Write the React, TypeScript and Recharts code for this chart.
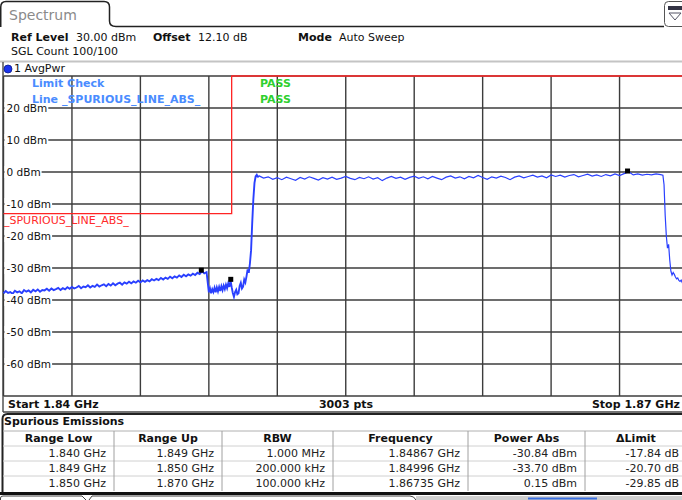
import React from "react";
import { CartesianGrid, ComposedChart, Line, ReferenceDot, XAxis, YAxis } from "recharts";

// sweep settings (MHz / dBm)
const startMHz = 1840;
const stopMHz = 1870;
const sweepPts = 3003;
const freqTicks = [1840, 1843, 1846, 1849, 1852, 1855, 1858, 1861, 1864, 1867, 1870];
const levelTicks = [30, 20, 10, 0, -10, -20, -30, -40, -50, -60, -70];

// spurious emissions table
const tableHeaders = ["Range Low", "Range Up", "RBW", "Frequency", "Power Abs", "\u0394Limit"];
const rangeLowGHz = [1.84, 1.849, 1.85];
const rangeUpGHz = [1.849, 1.85, 1.87];
const rbwText = ["1.000 MHz", "200.000 kHz", "100.000 kHz"];
const peakFreqGHz = [1.84867, 1.84996, 1.86735];
const powerAbsDbm = [-30.84, -33.7, 0.15];
const deltaLimitDb = [-17.84, -20.7, -29.85];

// trace in pieces
const lowBandDbm = [
  -37.9, -37.2, -37.8, -37.5, -38.1, -37.1, -37.6, -37.3, -37.9, -36.9,
  -37.4, -37.0, -37.6, -36.8, -37.3, -36.7, -37.4, -36.9, -37.0, -36.5,
  -37.1, -36.4, -36.9, -36.6, -36.2, -36.9, -36.3, -36.7, -36.0, -36.5,
  -35.9, -36.4, -36.1, -35.6, -36.3, -35.8, -36.0, -35.4, -36.1, -35.6,
  -35.9, -35.2, -35.8, -35.4, -35.1, -35.7, -35.0, -35.5, -34.8, -35.4,
  -34.9, -34.6, -35.2, -34.5, -34.9, -34.3, -34.8, -34.2, -34.6, -34.0,
  -34.5, -33.9, -34.3, -33.8, -34.2, -33.5, -33.9, -33.4, -33.8, -33.1,
  -33.6, -33.0, -33.4, -32.7, -33.2, -32.6, -33.0, -32.3, -32.8, -32.1,
  -32.6, -32.0, -32.4, -31.8, -32.2, -31.5, -31.9, -31.0, -31.7, -31.3,
];
const rbwBandDbm = [
  -37.6, -36.4, -37.9, -36.6, -37.5, -36.2, -37.6, -36.1, -37.3, -35.9,
  -37.2, -35.7, -36.9, -35.5, -36.6, -35.2, -36.3, -34.8, -35.9, -33.9,
];
const edgeDbm = [
  -36.0, -37.8, -39.0, -37.5, -36.8, -38.2, -37.9, -35.6, -34.6, -36.4,
  -35.8, -33.6, -34.5, -32.6, -30.4, -31.5, -28.6, -24.5, -16.0, -8.5,
  -3.4, -1.4, -0.9, -1.7,
];
const channelDbm = [
  -1.2, -1.9, -1.5, -2.3,
  -1.8, -2.4, -1.6, -2.1, -2.6,
  -1.7, -2.2, -1.5, -2.0, -2.5,
  -1.8, -2.2, -1.6, -2.3, -1.9,
  -1.4, -2.0, -2.4, -1.7, -2.1,
  -1.5, -2.2, -1.8, -2.7, -1.9,
  -1.4, -2.0, -1.6, -2.3, -1.7,
  -1.3, -2.0, -1.5, -2.1, -1.4,
  -1.9, -2.4, -1.6, -1.2, -1.9,
  -1.5, -2.1, -1.4, -1.8, -1.1,
  -1.7, -2.3, -1.5, -1.9, -1.3,
  -1.7, -2.4, -1.6, -1.2, -1.8,
  -1.4, -1.0, -1.6, -1.2, -1.8,
  -0.9, -1.4, -1.0, -1.6, -1.1,
  -0.8, -1.5, -1.1, -0.7, -1.3,
  -0.9, -1.4, -0.8, -1.2, -0.6,
  -1.1, -0.5, 0.1, -0.9, -0.6,
  -1.0, -0.7, -0.9, -0.6, -0.8,
];
const fallDbm = [
  -1.0, -4.0, -13.5, -20.0, -23.8, -22.6, -27.5, -31.0, -32.2, -31.4,
  -32.0, -32.8, -33.4, -33.1, -33.9, -34.2, -33.8, -34.6, -34.3, -35.0,
  -34.7, -35.2, -35.0,
];

type Seg = { start: number; step: number; values: number[] };
const toPoints = (segs: Seg[]) =>
  segs.flatMap((s) => s.values.map((dbm, i) => ({ f: s.start + i * s.step, dbm })));

// noisy out-of-band part is drawn heavier, like the dense 3003-pt trace on screen
const traceOutOfBand = toPoints([
  { start: 1840, step: 0.1, values: lowBandDbm },
  { start: 1849, step: 0.05, values: rbwBandDbm },
  { start: 1850, step: 0.05, values: edgeDbm },
]);
const traceChannel = [
  traceOutOfBand[traceOutOfBand.length - 1],
  ...toPoints([
    { start: 1851.2, step: 0.2, values: channelDbm },
    { start: 1868.9, step: 0.05, values: fallDbm },
  ]),
];

const limitLine = rangeLowGHz.flatMap((lo, i) => {
  const lim = powerAbsDbm[i] - deltaLimitDb[i];
  return [
    { f: lo * 1000, dbm: lim },
    { f: rangeUpGHz[i] * 1000, dbm: lim },
  ];
});
const markers = peakFreqGHz.map((g, i) => ({ f: g * 1000, dbm: powerAbsDbm[i] }));

const FONT = '"DejaVu Sans", Verdana, sans-serif';
const colEdges = [3, 114, 222, 333, 468, 585, 687];
const TRACE = "#2a40ff";

const glyphW: Record<string, number> = { "-": 0.361, " ": 0.318, d: 0.635, B: 0.686, m: 0.974 };
const textWidth = (s: string, size: number) =>
  s.split("").reduce((w, c) => w + (glyphW[c] ?? 0.636), 0) * size;

const DbmTick = (props: any) => {
  const { y, payload } = props;
  const v = payload.value;
  if (v >= 30 || v <= -70) return null;
  const label = `${v} dBm`;
  const w = textWidth(label, 10.5);
  return (
    <g>
      <rect x={4.5} y={y - 6} width={w + 3} height={12} fill="#fff" />
      <text x={6.5} y={y} dy={4} fontSize={10.5} fontFamily={FONT} fill="#111">
        {label}
      </text>
    </g>
  );
};

const MarkerSquare = (p: any) => <rect x={p.cx - 2.5} y={p.cy - 3} width={5} height={5} fill="#000" />;

type TProps = {
  x: number;
  y: number;
  children: React.ReactNode;
  bold?: boolean;
  color?: string;
  size?: number;
  align?: "left" | "center" | "right";
};
function T({ x, y, children, bold, color = "#111", size = 11, align = "left" }: TProps) {
  const w = 300;
  const left = align === "left" ? x : align === "center" ? x - w / 2 : x - w;
  return (
    <div
      style={{
        position: "absolute",
        left,
        top: y - 8,
        width: w,
        height: 16,
        lineHeight: "16px",
        fontSize: size,
        fontWeight: bold ? "bold" : "normal",
        color,
        textAlign: align,
        whiteSpace: "nowrap",
      }}
    >
      {children}
    </div>
  );
}

const rowY = [454, 468.5, 483.5];

export default function App() {
  return (
    <div
      style={{
        position: "fixed",
        left: 0,
        top: 0,
        width: 682,
        height: 500,
        overflow: "hidden",
        background: "#fff",
        fontFamily: FONT,
      }}
    >
      <svg width={682} height={500} style={{ position: "absolute", left: 0, top: 0 }}>
        <path
          d="M0.75,27 L0.75,7 Q0.75,1.5 6,1.5 L104,1.5 Q109.5,1.5 109.5,7 L109.5,21 Q109.5,26.5 116,26.5 L664,26.5"
          fill="none"
          stroke="#222"
          strokeWidth={1.5}
        />
        <rect x={664.5} y={1.5} width={24} height={25} rx={4} fill="#fff" stroke="#555" />
        <rect x={668} y={6} width={14} height={4} fill="#334" />
        <path d="M669,13 L681,13 L675,20 Z" fill="none" stroke="#556" strokeWidth={1} />
        <line x1={0} y1={61.5} x2={682} y2={61.5} stroke="#c4c4c4" strokeWidth={2} />
        <line x1={3} y1={62} x2={3} y2={412} stroke="#555" strokeWidth={1.5} />
        <circle cx={8} cy={69} r={4} fill="#1a33ee" stroke="#0a1a88" strokeWidth={0.8} />
        <line x1={3} y1={412} x2={682} y2={412} stroke="#444" strokeWidth={1.5} />
        <path d="M2.5,492 L2.5,419 Q2.5,414 7.5,414 L682,414" fill="none" stroke="#222" strokeWidth={2} />
        <line x1={3} y1={431} x2={682} y2={431} stroke="#b0b0b0" />
        {[446, 461, 476].map((y) => (
          <line key={y} x1={3} y1={y} x2={682} y2={y} stroke="#d0d0d0" />
        ))}
        {colEdges.slice(1, -1).map((x) => (
          <line key={x} x1={x} y1={431} x2={x} y2={491} stroke="#a0a0a0" />
        ))}
        <line x1={0} y1={493.5} x2={682} y2={493.5} stroke="#111" strokeWidth={3} />
        <path d="M0.5,500 L0.5,498 Q0.5,496 3,496 L82,496 L86,500" fill="none" stroke="#444" />
        <path d="M89,500 L92,496 L410,496 Q414,496 416,500" fill="none" stroke="#444" />
        <rect x={416} y={496} width={266} height={4} fill="#cfcfcf" />
        <line x1={528} y1={498.5} x2={597} y2={498.5} stroke="#3a6fe0" strokeWidth={2} />
      </svg>

      <div style={{ position: "absolute", left: 0, top: 0 }}>
        <ComposedChart width={700} height={500} margin={{ top: 76, right: 12, bottom: 104, left: 3.5 }}>
          <CartesianGrid stroke="#3c3c3c" strokeWidth={1.4} />
          <XAxis type="number" dataKey="f" domain={[startMHz, stopMHz]} ticks={freqTicks} hide />
          <YAxis
            type="number"
            dataKey="dbm"
            domain={[-70, 30]}
            ticks={levelTicks}
            interval={0}
            mirror
            axisLine={false}
            tickLine={false}
            tick={<DbmTick />}
          />
          <Line
            data={limitLine}
            dataKey="dbm"
            type="linear"
            stroke="#ff2424"
            strokeWidth={1.3}
            dot={false}
            activeDot={false}
            isAnimationActive={false}
          />
          <Line
            data={traceOutOfBand}
            dataKey="dbm"
            type="linear"
            stroke={TRACE}
            strokeWidth={1.9}
            dot={false}
            activeDot={false}
            isAnimationActive={false}
          />
          <Line
            data={traceChannel}
            dataKey="dbm"
            type="linear"
            stroke={TRACE}
            strokeWidth={1.2}
            dot={false}
            activeDot={false}
            isAnimationActive={false}
          />
          {markers.map((m) => (
            <ReferenceDot key={m.f} x={m.f} y={m.dbm} r={3} shape={MarkerSquare} />
          ))}
        </ComposedChart>
      </div>

      <T x={9} y={15} size={14} color="#8a8a8a">Spectrum</T>
      <T x={11} y={38} bold>Ref Level</T>
      <T x={76} y={38}>30.00 dBm</T>
      <T x={153} y={38} bold>Offset</T>
      <T x={198} y={38}>12.10 dB</T>
      <T x={298} y={38} bold>Mode</T>
      <T x={339} y={38}>Auto Sweep</T>
      <T x={11} y={52}>SGL Count 100/100</T>
      <T x={14} y={69}>1 AvgPwr</T>

      <T x={32} y={84} bold color="#4a8cff">Limit Check</T>
      <T x={32} y={100} bold color="#4a8cff">Line _SPURIOUS_LINE_ABS_</T>
      <T x={260} y={84} bold color="#2fd02f">PASS</T>
      <T x={260} y={100} bold color="#2fd02f">PASS</T>
      <T x={4} y={221} color="#ff2a2a">_SPURIOUS_LINE_ABS_</T>

      <T x={8} y={405} bold>Start {(startMHz / 1000).toFixed(2)} GHz</T>
      <T x={346} y={405} bold align="center">{sweepPts} pts</T>
      <T x={680} y={405} bold align="right">Stop {(stopMHz / 1000).toFixed(2)} GHz</T>

      <T x={4} y={422} bold>Spurious Emissions</T>
      {tableHeaders.map((h, i) => (
        <T key={h} x={(colEdges[i] + colEdges[i + 1]) / 2} y={439} bold align="center">
          {h}
        </T>
      ))}
      {rangeLowGHz.map((lo, r) => {
        const cells = [
          `${lo.toFixed(3)} GHz`,
          `${rangeUpGHz[r].toFixed(3)} GHz`,
          rbwText[r],
          `${peakFreqGHz[r].toFixed(5)} GHz`,
          `${powerAbsDbm[r].toFixed(2)} dBm`,
          `${deltaLimitDb[r].toFixed(2)} dB`,
        ];
        return cells.map((c, i) => (
          <T key={`${r}-${i}`} x={Math.min(colEdges[i + 1] - 8, 679)} y={rowY[r]} align="right" color="#222">
            {c}
          </T>
        ));
      })}
    </div>
  );
}
